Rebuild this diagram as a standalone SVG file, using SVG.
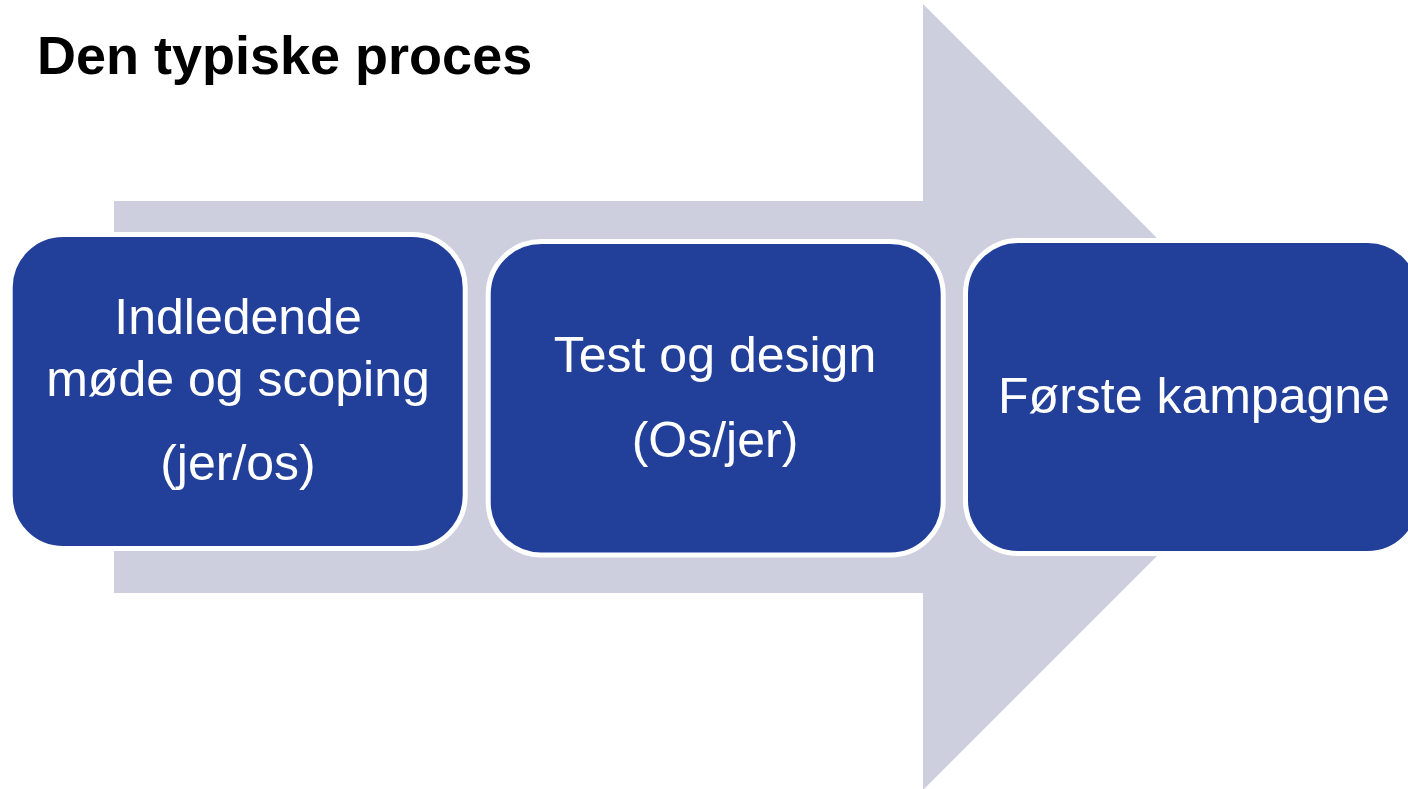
<svg xmlns="http://www.w3.org/2000/svg" width="1408" height="789" viewBox="0 0 1408 789">
<style>
.box{fill:#22409A;stroke:#FFFFFF;stroke-width:5}
.lbl{font-family:"Liberation Sans",Arial,sans-serif;font-size:50px;fill:#FFFFFF;text-anchor:middle}
.title{font-family:"Liberation Sans",Arial,sans-serif;font-size:54px;font-weight:bold;fill:#000000}
</style>
<rect width="1408" height="789" fill="#FFFFFF"/>
<g id="connectors">
<polygon points="114,201 923,201 923,4 1316,397 923,790 923,593 114,593" fill="#CDCFDF"/>
</g>
<text class="title" x="37" y="74">Den typiske proces</text>
<g id="node1">
<rect class="box" x="10.2" y="234.5" width="455" height="314" rx="53" ry="53"/>
<text class="lbl" x="238" y="334">Indledende</text>
<text class="lbl" x="238" y="396">møde og scoping</text>
<text class="lbl" x="238" y="480">(jer/os)</text>
</g>
<g id="node2">
<rect class="box" x="488.2" y="241.5" width="455" height="313.5" rx="53" ry="53"/>
<text class="lbl" x="715" y="372">Test og design</text>
<text class="lbl" x="715" y="457">(Os/jer)</text>
</g>
<g id="node3">
<rect class="box" x="965.5" y="240.5" width="455" height="313" rx="53" ry="53"/>
<text class="lbl" x="1194" y="413">Første kampagne</text>
</g>
</svg>
